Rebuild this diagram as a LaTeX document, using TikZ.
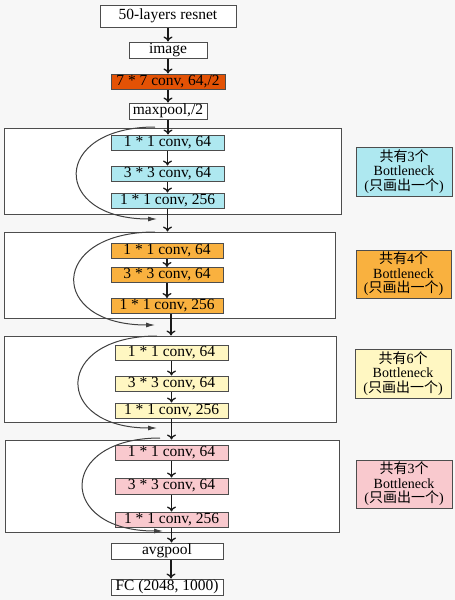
\documentclass[tikz,border=0pt]{standalone}
\usepackage{fontspec}
\setmainfont{Liberation Serif}
\newfontfamily\cjk{Noto Sans CJK SC}[Scale=1.0]
\usetikzlibrary{arrows.meta}
\definecolor{bgc}{HTML}{F7F7F7}
\definecolor{bordergray}{HTML}{4D4D4D}
\definecolor{convorange}{HTML}{E35205}
\definecolor{cyanbox}{HTML}{AEE8F0}
\definecolor{orangebox}{HTML}{F9B13F}
\definecolor{yellowbox}{HTML}{FFF7C2}
\definecolor{pinkbox}{HTML}{F9C9CE}
\definecolor{arrowc}{HTML}{1A1A1A}
\definecolor{curvegray}{HTML}{404040}
\begin{document}
\begin{tikzpicture}[x=1pt,y=-1pt,
  box/.style={draw=bordergray, line width=1pt, fill=white, inner sep=0pt,
    text height=10.8pt, text depth=3pt, font=\fontsize{15.5}{16}\selectfont},
  group/.style={draw=bordergray, line width=1pt, fill=white, inner sep=0pt},
  side/.style={draw=bordergray, line width=1pt, align=center, inner sep=0pt,
    font=\fontsize{14}{14.5}\selectfont},
  flow/.style={-{To[length=5pt,width=9pt]}, line width=1.3pt, draw=arrowc},
  skip/.style={-{Latex[length=9pt,width=5pt]}, line width=1pt, draw=curvegray}]
\useasboundingbox (0,0) rectangle (455,600);
\fill[bgc] (0,0) rectangle (455,600);

% top chain
\node[box, minimum width=136pt, minimum height=22pt] (title) at (168,16) {50-layers resnet};
\node[box, minimum width=78pt, minimum height=16pt] (img) at (168,50) {image};
\node[box, fill=convorange, minimum width=114pt, minimum height=15pt] (conv7) at (168,81.5) {7 * 7 conv, 64,/2};
\node[box, minimum width=78pt, minimum height=16pt] (maxp) at (168,111) {maxpool,/2};

% groups
\node[group, minimum width=337pt, minimum height=86pt] (g1) at (172.5,171) {};
\node[group, minimum width=331pt, minimum height=86pt] (g2) at (169.5,275) {};
\node[group, minimum width=332pt, minimum height=86pt] (g3) at (170,379) {};
\node[group, minimum width=334pt, minimum height=92pt] (g4) at (172,486) {};

% block 1
\node[box, fill=cyanbox, minimum width=113pt, minimum height=15pt] (b1a) at (167.5,142.5) {1 * 1 conv, 64};
\node[box, fill=cyanbox, minimum width=113pt, minimum height=15pt] (b1b) at (167.5,173.5) {3 * 3 conv, 64};
\node[box, fill=cyanbox, minimum width=113pt, minimum height=15pt] (b1c) at (167.5,200.5) {1 * 1 conv, 256};
\node[side, fill=cyanbox, minimum width=96pt, minimum height=49pt] (s1) at (404,171.5)
  {{\cjk 共有}3{\cjk 个}\\Bottleneck\\({\cjk 只画出一个})};

% block 2
\node[box, fill=orangebox, minimum width=112pt, minimum height=15pt] (b2a) at (167,251) {1 * 1 conv, 64};
\node[box, fill=orangebox, minimum width=112pt, minimum height=15pt] (b2b) at (167,275) {3 * 3 conv, 64};
\node[box, fill=orangebox, minimum width=112pt, minimum height=15pt] (b2c) at (167,306) {1 * 1 conv, 256};
\node[side, fill=orangebox, minimum width=95pt, minimum height=48pt] (s2) at (403.5,274)
  {{\cjk 共有}4{\cjk 个}\\Bottleneck\\({\cjk 只画出一个})};

% block 3
\node[box, fill=yellowbox, minimum width=113pt, minimum height=15pt] (b3a) at (171.5,352.5) {1 * 1 conv, 64};
\node[box, fill=yellowbox, minimum width=113pt, minimum height=15pt] (b3b) at (171.5,383.5) {3 * 3 conv, 64};
\node[box, fill=yellowbox, minimum width=113pt, minimum height=15pt] (b3c) at (171.5,410.5) {1 * 1 conv, 256};
\node[side, fill=yellowbox, minimum width=96pt, minimum height=49pt] (s3) at (403,373.5)
  {{\cjk 共有}6{\cjk 个}\\Bottleneck\\({\cjk 只画出一个})};

% block 4
\node[box, fill=pinkbox, minimum width=113pt, minimum height=15pt] (b4a) at (171.5,452.5) {1 * 1 conv, 64};
\node[box, fill=pinkbox, minimum width=113pt, minimum height=16pt] (b4b) at (171.5,486) {3 * 3 conv, 64};
\node[box, fill=pinkbox, minimum width=113pt, minimum height=15pt] (b4c) at (171.5,519.5) {1 * 1 conv, 256};
\node[side, fill=pinkbox, minimum width=96pt, minimum height=48pt] (s4) at (404,484)
  {{\cjk 共有}3{\cjk 个}\\Bottleneck\\({\cjk 只画出一个})};

% bottom
\node[box, minimum width=112pt, minimum height=16pt] (avg) at (167,551) {avgpool};
\node[box, minimum width=112pt, minimum height=16pt] (fc) at (167,587) {FC (2048, 1000)};

% flow arrows
\draw[flow] (title) -- (img);
\draw[flow] (img) -- (conv7);
\draw[flow] (conv7) -- (maxp);
\draw[flow] (maxp.south) -- (b1a.north -| maxp.south);
\draw[flow] (b1a) -- (b1b);
\draw[flow] (b1b) -- (b1c);
\draw[flow] (b1c.south) -- (b1c.south |- g2.north);
\draw[flow] (b2a) -- (b2b);
\draw[flow] (b2b) -- (b2c);
\draw[flow] ([xshift=4pt]b2c.south) -- ([xshift=4pt]b2c.south |- g3.north);
\draw[flow] (b3a) -- (b3b);
\draw[flow] (b3b) -- (b3c);
\draw[flow] (b3c.south) -- (b3c.south |- g4.north);
\draw[flow] (b4a) -- (b4b);
\draw[flow] (b4b) -- (b4c);
\draw[flow] (b4c.south) -- (b4c.south |- avg.north);
\draw[flow] ([xshift=4pt]avg.south) -- ([xshift=4pt]fc.north);

% skip connections
\coordinate (k1s) at (155,127);
\coordinate (k1e) at (157,219);
\draw[skip] (k1s) .. controls (51,127) and (51,219) .. (k1e);
\coordinate (k2s) at (155,232);
\coordinate (k2e) at (155,325);
\draw[skip] (k2s) .. controls (48,232) and (48,325) .. (k2e);
\coordinate (k3s) at (157,336);
\coordinate (k3e) at (157,428);
\draw[skip] (k3s) .. controls (53,336) and (53,428) .. (k3e);
\coordinate (k4s) at (160,438);
\coordinate (k4e) at (163,531);
\draw[skip] (k4s) .. controls (57,438) and (57,531) .. (k4e);
\end{tikzpicture}
\end{document}
